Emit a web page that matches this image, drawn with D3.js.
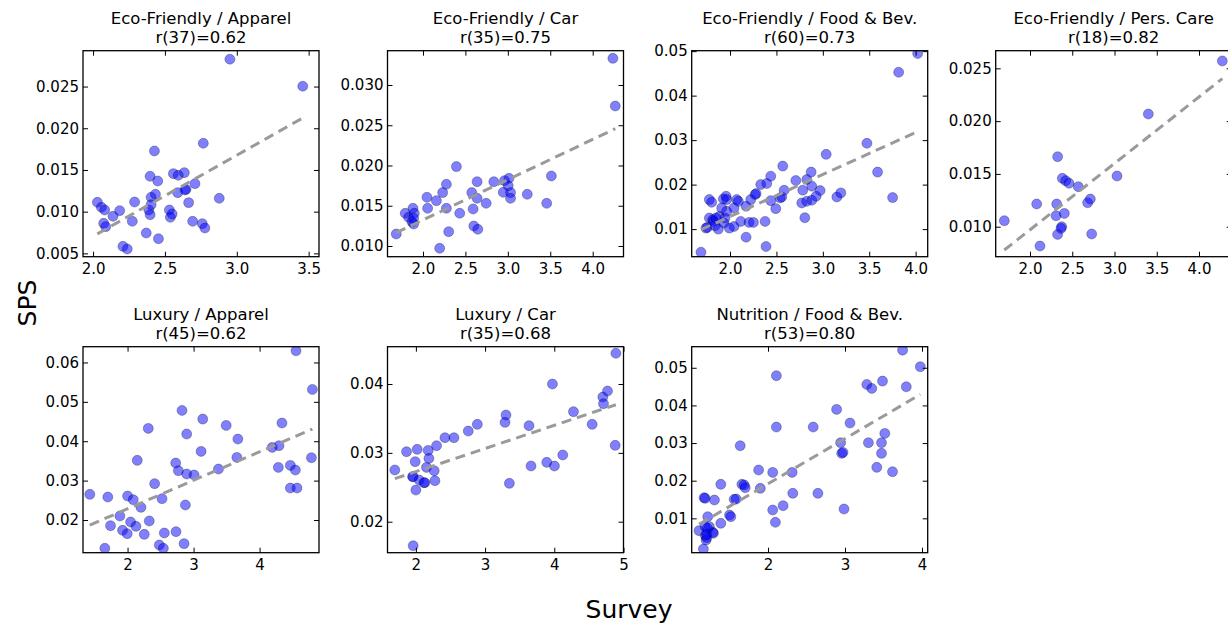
<!DOCTYPE html>
<html>
<head>
<meta charset="utf-8">
<script src="https://cdn.jsdelivr.net/npm/d3@7"></script>
<style>
body { margin: 0; background: #fff; }
svg text { font-family: "DejaVu Sans", sans-serif; fill: #000; }
</style>
</head>
<body>
<svg id="chart" width="1228" height="624"></svg>
<script>
// survey score (x) vs SPS (y), one array of points per panel
const ecoApparel = [[2.03,0.01112],[2.058,0.01052],[2.081,0.0102],[2.074,0.0086],[2.088,0.0082],[2.139,0.00944],[2.185,0.01012],[2.208,0.00584],[2.238,0.00552],[2.273,0.00884],[2.289,0.01116],[2.37,0.00744],[2.388,0.0102],[2.397,0.00964],[2.404,0.01172],[2.404,0.01084],[2.397,0.01424],[2.427,0.01728],[2.434,0.01208],[2.45,0.01368],[2.455,0.00676],[2.531,0.0102],[2.538,0.00932],[2.55,0.00972],[2.559,0.01456],[2.593,0.01436],[2.589,0.01228],[2.635,0.01468],[2.64,0.0126],[2.647,0.01268],[2.665,0.01108],[2.693,0.00884],[2.709,0.01336],[2.76,0.00856],[2.778,0.00804],[2.767,0.0182],[2.878,0.0116],[2.952,0.02828],[3.459,0.02504]];
const ecoCar = [[1.685,0.01149],[1.791,0.01406],[1.831,0.01356],[1.87,0.01302],[1.882,0.01468],[1.89,0.01273],[1.898,0.01406],[1.89,0.01344],[2.047,0.01605],[2.055,0.01468],[2.158,0.01563],[2.232,0.01663],[2.276,0.01766],[2.276,0.01468],[2.303,0.01178],[2.394,0.01986],[2.433,0.01406],[2.575,0.01663],[2.591,0.0146],[2.599,0.01248],[2.638,0.01799],[2.638,0.01592],[2.646,0.01207],[2.745,0.0153],[2.835,0.01799],[2.946,0.01667],[2.961,0.01812],[3.013,0.01841],[3.005,0.01749],[3.032,0.01663],[3.032,0.01592],[3.229,0.01642],[3.458,0.0153],[3.513,0.0187],[2.197,0.00971],[4.238,0.03331],[4.266,0.02739]];
const ecoFood = [[1.687,0.0048],[1.741,0.01023],[1.755,0.01038],[1.777,0.01663],[1.802,0.01603],[1.777,0.01249],[1.813,0.01211],[1.82,0.01173],[1.838,0.01075],[1.849,0.01249],[1.874,0.01],[1.885,0.01286],[1.91,0.01475],[1.928,0.01678],[1.935,0.01136],[1.946,0.01249],[1.957,0.01738],[1.964,0.01663],[1.964,0.01399],[1.993,0.01023],[2.043,0.0106],[2.043,0.01475],[2.072,0.01663],[2.09,0.01625],[2.115,0.01173],[2.173,0.01512],[2.173,0.00819],[2.205,0.01151],[2.223,0.01663],[2.252,0.01151],[2.27,0.01776],[2.281,0.01798],[2.331,0.02002],[2.378,0.01173],[2.388,0.00608],[2.396,0.02024],[2.439,0.0219],[2.439,0.0164],[2.493,0.0146],[2.54,0.017],[2.558,0.01723],[2.568,0.02416],[2.583,0.01874],[2.709,0.02092],[2.773,0.01588],[2.784,0.01874],[2.806,0.01256],[2.827,0.02115],[2.827,0.01625],[2.874,0.02281],[2.881,0.01964],[2.881,0.01648],[2.928,0.01738],[2.971,0.01866],[3.036,0.0268],[3.151,0.01723],[3.194,0.01814],[3.475,0.02928],[3.59,0.02281],[3.752,0.01708],[3.817,0.04525],[4.022,0.04947]];
const ecoCare = [[1.696,0.01057],[2.079,0.01215],[2.118,0.00817],[2.316,0.01215],[2.308,0.01104],[2.327,0.01663],[2.327,0.00927],[2.375,0.01],[2.367,0.00984],[2.383,0.01458],[2.406,0.01126],[2.422,0.01436],[2.462,0.01411],[2.572,0.01379],[2.682,0.01227],[2.714,0.01262],[2.73,0.00931],[3.03,0.0148],[3.4,0.02067],[4.276,0.0257]];
const luxApparel = [[1.428,0.02651],[1.656,0.01281],[1.701,0.02583],[1.742,0.01856],[1.884,0.02101],[1.924,0.01738],[1.995,0.01653],[2.0,0.02609],[2.046,0.01949],[2.086,0.02516],[2.127,0.01839],[2.147,0.03514],[2.203,0.02321],[2.253,0.01636],[2.329,0.01975],[2.314,0.04326],[2.41,0.02922],[2.481,0.01366],[2.522,0.02541],[2.542,0.01281],[2.557,0.0167],[2.729,0.03446],[2.734,0.01704],[2.77,0.03252],[2.825,0.04782],[2.856,0.014],[2.876,0.02381],[2.896,0.04182],[2.896,0.03167],[3.008,0.03142],[3.114,0.03742],[3.139,0.04562],[3.377,0.03294],[3.494,0.04402],[3.656,0.0359],[3.671,0.04055],[4.192,0.03844],[4.294,0.03886],[4.284,0.03336],[4.339,0.04461],[4.466,0.03387],[4.466,0.02812],[4.542,0.03268],[4.567,0.02812],[4.552,0.06296],[4.785,0.03581],[4.8,0.05315]];
const luxCar = [[1.696,0.02751],[1.865,0.03017],[1.952,0.02654],[1.961,0.02654],[1.99,0.02872],[2.0,0.0246],[2.019,0.03051],[2.048,0.02605],[2.116,0.02567],[2.13,0.02567],[2.154,0.02789],[2.178,0.03036],[2.188,0.0292],[2.265,0.02741],[2.275,0.02596],[2.299,0.03104],[2.42,0.0322],[2.55,0.0322],[2.757,0.03317],[2.888,0.03414],[3.288,0.03443],[3.302,0.0355],[3.351,0.02557],[3.635,0.03395],[3.664,0.02809],[3.891,0.02862],[3.973,0.04],[4.002,0.02809],[4.122,0.02969],[4.277,0.03598],[4.547,0.03414],[4.701,0.03811],[4.711,0.03714],[4.769,0.03898],[4.88,0.03109],[4.89,0.04446],[1.961,0.01651]];
const nutFood = [[1.104,0.00673],[1.161,0.00186],[1.17,0.01549],[1.183,0.01531],[1.183,0.00779],[1.187,0.0054],[1.196,0.00425],[1.204,0.00487],[1.217,0.01044],[1.239,0.00779],[1.283,0.00628],[1.291,0.00602],[1.304,0.01487],[1.387,0.01903],[1.387,0.00867],[1.5,0.01088],[1.517,0.01044],[1.561,0.01504],[1.587,0.01513],[1.639,0.02929],[1.661,0.01903],[1.691,0.01885],[1.704,0.01814],[1.878,0.02283],[1.9,0.01796],[2.061,0.02221],[2.061,0.01221],[2.096,0.00894],[2.109,0.03425],[2.109,0.04788],[2.196,0.01336],[2.313,0.02221],[2.322,0.01664],[2.587,0.03425],[2.648,0.01664],[2.891,0.03894],[2.943,0.03009],[2.957,0.02726],[2.974,0.02752],[2.987,0.01248],[3.065,0.03531],[3.283,0.04558],[3.304,0.03009],[3.348,0.04451],[3.413,0.02354],[3.474,0.02726],[3.474,0.03009],[3.487,0.04646],[3.517,0.03257],[3.617,0.02239],[3.748,0.05469],[3.796,0.04496],[3.978,0.05027],[1.213,0.00735],[1.204,0.00575]];

const titles = ["Eco-Friendly / Apparel", "Eco-Friendly / Car", "Eco-Friendly / Food & Bev.", "Eco-Friendly / Pers. Care",
                "Luxury / Apparel", "Luxury / Car", "Nutrition / Food & Bev."];
const rLabels = ["r(37)=0.62", "r(35)=0.75", "r(60)=0.73", "r(18)=0.82", "r(45)=0.62", "r(35)=0.68", "r(53)=0.80"];
const xDomains = [[1.93,3.572],[1.582,4.363],[1.587,4.13],[1.594,4.387],[1.325,4.90],[1.59,5.0],[1.009,4.074]];
const yDomains = [[0.0046,0.0293],[0.00867,0.03426],[0.0038,0.0501],[0.00716,0.02667],[0.0117,0.064],[0.0155,0.04542],[0.00087,0.0556]];
const xTicks = [[2.0,2.5,3.0,3.5],[2.0,2.5,3.0,3.5,4.0],[2.0,2.5,3.0,3.5,4.0],[2.0,2.5,3.0,3.5,4.0],[2,3,4],[2,3,4,5],[2,3,4]];
const yTicks = [[0.005,0.01,0.015,0.02,0.025],[0.01,0.015,0.02,0.025,0.03],[0.01,0.02,0.03,0.04,0.05],[0.01,0.015,0.02,0.025],
                [0.02,0.03,0.04,0.05,0.06],[0.02,0.03,0.04],[0.01,0.02,0.03,0.04,0.05]];
const xFormats = [".1f",".1f",".1f",".1f","d","d","d"];
const yFormats = [".3f",".3f",".2f",".3f",".2f",".2f",".2f"];

const datasets = [ecoApparel, ecoCar, ecoFood, ecoCare, luxApparel, luxCar, nutFood];

const svg = d3.select("#chart");
const colLefts = [83, 387.5, 691.7, 995.7];
const rowTops = [50.7, 346.7];
const pw = 236, ph = 206;
const tickLen = 5;

function fit(pts) {
    const mx = d3.mean(pts, d => d[0]), my = d3.mean(pts, d => d[1]);
    let sxy = 0, sxx = 0;
    pts.forEach(d => { sxy += (d[0] - mx) * (d[1] - my); sxx += (d[0] - mx) * (d[0] - mx); });
    const b = sxy / sxx;
    const x0 = d3.min(pts, d => d[0]), x1 = d3.max(pts, d => d[0]);
    return [[x0, my + b * (x0 - mx)], [x1, my + b * (x1 - mx)]];
}

datasets.forEach((pts, i) => {
    const left = colLefts[i % 4], top = rowTops[Math.floor(i / 4)];
    const g = svg.append("g").attr("transform", `translate(${left},${top})`);
    const x = d3.scaleLinear().domain(xDomains[i]).range([0, pw]);
    const y = d3.scaleLinear().domain(yDomains[i]).range([ph, 0]);

    g.append("clipPath").attr("id", "clip" + i)
        .append("rect").attr("width", pw).attr("height", ph);

    const plot = g.append("g").attr("clip-path", `url(#clip${i})`);
    plot.selectAll("circle")
        .data(pts)
        .enter().append("circle")
        .attr("cx", d => x(d[0]))
        .attr("cy", d => y(d[1]))
        .attr("r", 5)
        .attr("fill", "#0000ff")
        .attr("fill-opacity", 0.5)
        .attr("stroke", "#000")
        .attr("stroke-opacity", 0.35)
        .attr("stroke-width", 0.8);

    const line = fit(pts);
    plot.append("line")
        .attr("x1", x(line[0][0])).attr("y1", y(line[0][1]))
        .attr("x2", x(line[1][0])).attr("y2", y(line[1][1]))
        .attr("stroke", "#9a9a9a")
        .attr("stroke-width", 3)
        .attr("stroke-dasharray", "10,6");

    // inward ticks on all four sides, labels only bottom/left
    g.append("g").attr("transform", `translate(0,${ph})`)
        .call(d3.axisBottom(x).tickValues(xTicks[i]).tickFormat(d3.format(xFormats[i])).tickSize(-tickLen).tickPadding(7));
    g.append("g")
        .call(d3.axisLeft(y).tickValues(yTicks[i]).tickFormat(d3.format(yFormats[i])).tickSize(-tickLen).tickPadding(4));
    g.append("g").call(d3.axisTop(x).tickValues(xTicks[i]).tickFormat("").tickSize(-tickLen));
    g.append("g").attr("transform", `translate(${pw},0)`)
        .call(d3.axisRight(y).tickValues(yTicks[i]).tickFormat("").tickSize(-tickLen));
    g.selectAll(".domain").remove();
    g.selectAll(".tick line").attr("stroke", "#000").attr("stroke-width", 1);
    g.selectAll(".tick text").attr("font-size", 15).attr("font-family", "DejaVu Sans");

    g.append("rect").attr("width", pw).attr("height", ph)
        .attr("fill", "none").attr("stroke", "#000").attr("stroke-width", 1.3);

    g.append("text").attr("x", pw / 2).attr("y", -27).attr("text-anchor", "middle")
        .attr("font-size", 16.5).text(titles[i]);
    g.append("text").attr("x", pw / 2).attr("y", -8).attr("text-anchor", "middle")
        .attr("font-size", 16.5).text(rLabels[i]);
});

svg.append("text").attr("transform", "translate(36,303) rotate(-90)")
    .attr("text-anchor", "middle").attr("font-size", 25).text("SPS");
svg.append("text").attr("x", 629).attr("y", 618)
    .attr("text-anchor", "middle").attr("font-size", 25).text("Survey");
</script>
</body>
</html>
